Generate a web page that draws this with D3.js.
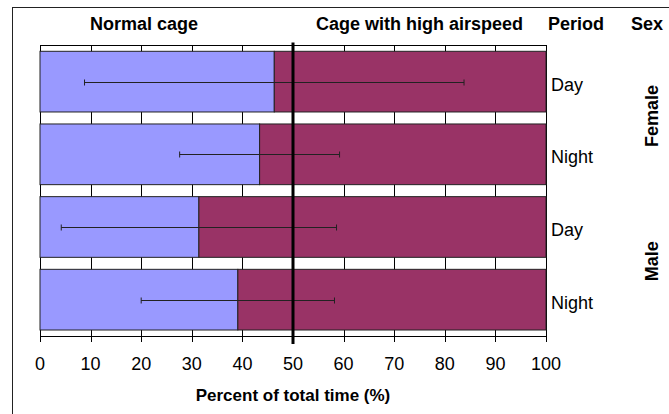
<!DOCTYPE html>
<html>
<head>
<meta charset="utf-8">
<script src="https://cdn.jsdelivr.net/npm/d3@7"></script>
<style>
  html, body { margin: 0; padding: 0; background: #fff; }
  svg { display: block; font-family: "Liberation Sans", Arial, sans-serif; }
</style>
</head>
<body>
<svg id="chart" width="669" height="414"></svg>
<script>
// ---- data ----
const periods = ["Day", "Night", "Day", "Night"];
const sexes = ["Female", "Male"];
const normalCage = [46.3, 43.4, 31.4, 39.1];
const highAirspeed = [53.7, 56.6, 68.6, 60.9];
const errorSize = [37.5, 15.8, 27.2, 19.1];
const xTicks = [0, 10, 20, 30, 40, 50, 60, 70, 80, 90, 100];
const headers = ["Normal cage", "Cage with high airspeed", "Period", "Sex"];
const xTitle = "Percent of total time (%)";
const refValue = 50;

(function () {
const svg = d3.select("#chart");
const pLeft = 40, pRight = 546, pTop = 45.3, pBottom = 336;

const x = d3.scaleLinear().domain([0, 100]).range([pLeft, pRight]);
const y = d3.scaleBand().domain(d3.range(periods.length))
  .range([pTop, pBottom]).paddingInner(0.165).paddingOuter(0.0825);
const ySex = d3.scaleBand().domain(sexes).range([pTop, pBottom]);

// outer frame
svg.append("rect").attr("x", 12.5).attr("y", 7.5).attr("width", 700).attr("height", 450)
  .attr("fill", "none").attr("stroke", "#222").attr("stroke-width", 1);

// gridlines + ticks
svg.append("g").selectAll("line").data(xTicks).join("line")
  .attr("x1", d => Math.round(x(d)) + 0.5).attr("x2", d => Math.round(x(d)) + 0.5)
  .attr("y1", pTop).attr("y2", pBottom + 6)
  .attr("stroke", "#000").attr("stroke-width", 1);

// plot border
svg.append("rect").attr("x", pLeft + 0.5).attr("y", Math.round(pTop) + 0.5)
  .attr("width", pRight - pLeft).attr("height", pBottom - Math.round(pTop))
  .attr("fill", "none").attr("stroke", "#000").attr("stroke-width", 1);

// bars
const rows = periods.map((p, i) => ({ i, p, n: normalCage[i], h: highAirspeed[i], e: errorSize[i] }));
const barG = svg.append("g");
barG.selectAll("rect.n").data(rows).join("rect").attr("class", "n")
  .attr("x", x(0)).attr("y", d => y(d.i)).attr("width", d => x(d.n) - x(0)).attr("height", y.bandwidth())
  .attr("fill", "#9999FF").attr("stroke", "#222").attr("stroke-width", 1);
barG.selectAll("rect.h").data(rows).join("rect").attr("class", "h")
  .attr("x", d => x(d.n)).attr("y", d => y(d.i)).attr("width", d => x(d.n + d.h) - x(d.n)).attr("height", y.bandwidth())
  .attr("fill", "#993366").attr("stroke", "#222").attr("stroke-width", 1);

// error bars
const errG = svg.append("g").attr("stroke", "#222").attr("stroke-width", 1);
rows.forEach(d => {
  const cy = Math.round(y(d.i) + y.bandwidth() / 2) + 0.5;
  const x1 = x(d.n - d.e), x2 = x(d.n + d.e);
  errG.append("line").attr("x1", x1).attr("x2", x2).attr("y1", cy).attr("y2", cy);
  errG.append("line").attr("x1", x1).attr("x2", x1).attr("y1", cy - 3).attr("y2", cy + 3);
  errG.append("line").attr("x1", x2).attr("x2", x2).attr("y1", cy - 3).attr("y2", cy + 3);
});

// reference line at 50
svg.append("line").attr("x1", x(refValue)).attr("x2", x(refValue))
  .attr("y1", 42.5).attr("y2", 344).attr("stroke", "#000").attr("stroke-width", 3);

// x tick labels
svg.append("g").selectAll("text").data(xTicks).join("text")
  .attr("x", d => x(d)).attr("y", 370).attr("text-anchor", "middle")
  .attr("font-size", 18).attr("fill", "#000").text(d => d);

// x title
svg.append("text").attr("x", (pLeft + pRight) / 2).attr("y", 401).attr("text-anchor", "middle")
  .attr("font-size", 17).attr("font-weight", "bold").text(xTitle);

// headers
const headerPos = [144, (x(50) + x(100)) / 2, 576, 647];
headers.forEach((h, i) => {
  svg.append("text").attr("x", headerPos[i]).attr("y", 30).attr("text-anchor", "middle")
    .attr("font-size", 18).attr("font-weight", "bold").text(h);
});

// period labels
svg.append("g").selectAll("text").data(rows).join("text")
  .attr("x", 551).attr("y", d => y(d.i) + y.bandwidth() / 2 + 9)
  .attr("font-size", 18).text(d => d.p);

// sex labels
sexes.forEach(s => {
  const cy = ySex(s) + ySex.bandwidth() / 2;
  svg.append("text").attr("transform", `translate(658,${cy - 2}) rotate(-90)`)
    .attr("text-anchor", "middle").attr("font-size", 18).attr("font-weight", "bold").text(s);
});
})();
</script>
</body>
</html>
